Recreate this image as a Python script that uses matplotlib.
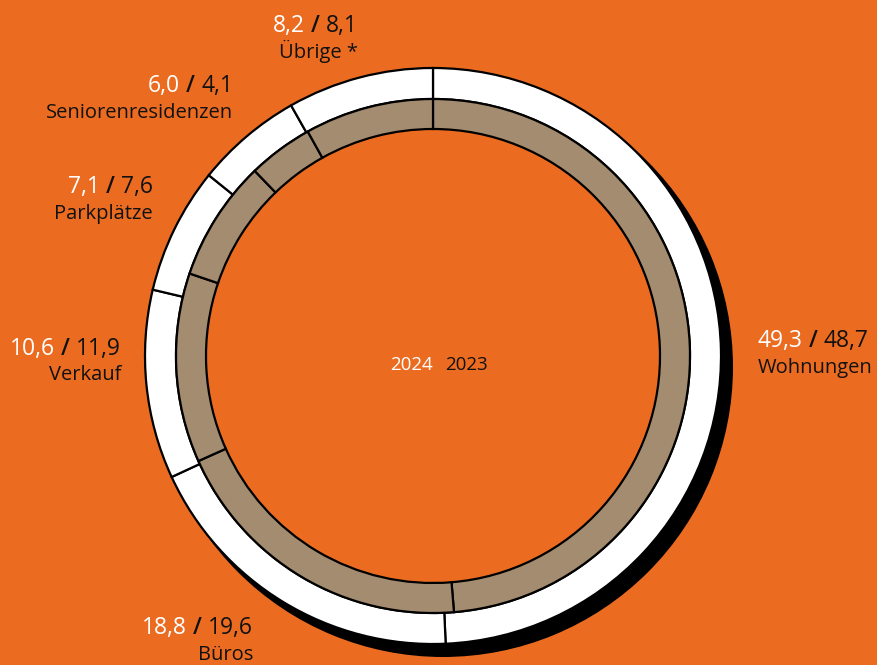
import matplotlib.pyplot as plt
from matplotlib.patches import Wedge

# Anteile in Prozent, im Uhrzeigersinn ab 12 Uhr
categories = ["Wohnungen", "Büros", "Verkauf", "Parkplätze", "Seniorenresidenzen", "Übrige*"]
share_2024 = [49.3, 18.8, 10.6, 7.1, 6.0, 8.2]
share_2023 = [48.7, 19.6, 11.9, 7.6, 4.1, 8.1]

def fmt(v):
    return f"{v:.1f}".replace(".", ",")

ORANGE = "#EB6C21"
TAUPE = "#A38C6F"
INK = "#111111"
plt.rcParams['font.family'] = ['Open Sans', 'DejaVu Sans']

W, H = 878, 665
cx, cy = 433, 356
fig = plt.figure(figsize=(W / 100, H / 100), dpi=100, facecolor=ORANGE)
ax = fig.add_axes([0, 0, 1, 1])
ax.set_facecolor(ORANGE)
ax.axis("off")

# Schatten (Ring, nach rechts unten versetzt)
ax.add_patch(Wedge((10, -11), 290, 0, 360, width=28, facecolor="black",
                   edgecolor="none", zorder=0))

edge = dict(edgecolor="black", linewidth=1.6)
ax.pie(share_2024, radius=288, startangle=90, counterclock=False,
       colors=["white"] * len(share_2024), wedgeprops=dict(width=31, **edge))
ax.pie(share_2023, radius=257, startangle=90, counterclock=False,
       colors=[TAUPE] * len(share_2023), wedgeprops=dict(width=30, **edge))
# 1 Dateneinheit = 1 Pixel, Mittelpunkt im Ursprung
ax.set_xlim(-cx, W - cx)
ax.set_ylim(-(H - cy), cy)
ax.set_aspect("equal")

# Label-Positionen in Pixeln (x-Kante, Grundlinie Zahl, Grundlinie Text, Ausrichtung)
label_pos = {
    "Wohnungen": (758, 347, 373, "left"),
    "Büros": (253, 634, 660, "right"),
    "Verkauf": (121, 355, 380, "right"),
    "Parkplätze": (153, 193, 219, "right"),
    "Seniorenresidenzen": (233, 92, 118, "right"),
    "Übrige*": (358, 32, 58, "right"),
}

NUM_FS = 16.5
LAB_FS = 14.5

def px(x, y):
    return x - cx, cy - y

for cat, v24, v23 in zip(categories, share_2024, share_2023):
    x, yn, yl, ha = label_pos[cat]
    X, YN = px(x, yn)
    parts = [(fmt(v24), "white", "normal"), (" / ", INK, "semibold"), (fmt(v23), INK, "normal")]
    if ha == "right":
        s, c, w = parts[-1]
        t = ax.text(X, YN, s, color=c, fontsize=NUM_FS, fontweight=w,
                    ha="right", va="baseline")
        for s, c, w in reversed(parts[:-1]):
            t = ax.annotate(s, xy=(0, 0), xycoords=t, color=c, fontsize=NUM_FS,
                            fontweight=w, ha="right", va="bottom")
    else:
        s, c, w = parts[0]
        t = ax.text(X, YN, s, color=c, fontsize=NUM_FS, fontweight=w,
                    ha="left", va="baseline")
        for s, c, w in parts[1:]:
            t = ax.annotate(s, xy=(1, 0), xycoords=t, color=c, fontsize=NUM_FS,
                            fontweight=w, ha="left", va="bottom")
    X, YL = px(x, yl)
    ax.text(X, YL, cat.replace("*", " *"), color=INK, fontsize=LAB_FS,
            ha=ha, va="baseline")

# Legende in der Mitte
X, Y = px(433, 370)
ax.text(X, Y, "2024", color="white", fontsize=13.5, ha="right", va="baseline")
ax.text(X + 12, Y, "2023", color=INK, fontsize=13.5, ha="left", va="baseline")

fig.savefig("out.png", dpi=100, facecolor=ORANGE)
